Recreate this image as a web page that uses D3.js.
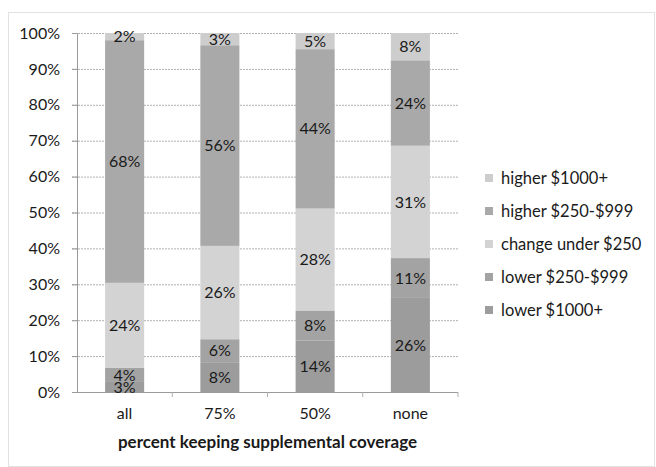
<!DOCTYPE html>
<html>
<head>
<meta charset="utf-8">
<script src="https://cdn.jsdelivr.net/npm/d3@7"></script>
<style>
  body { margin: 0; background: #fff; }
  text { font-family: Lato, "Open Sans", sans-serif; fill: #1a1a1a; }
</style>
</head>
<body>
<div id="chart"></div>
<script>
// categories along the x axis
var categories = ["all", "75%", "50%", "none"];
// series, bottom of the stack first
var seriesNames = ["lower $1000+", "lower $250-$999", "change under $250", "higher $250-$999", "higher $1000+"];
var lower1000 = [2.8, 8.3, 14.3, 26.2];
var lower250 = [3.9, 6.4, 8.4, 11.1];
var changeUnder = [23.7, 26.0, 28.4, 31.3];
var higher250 = [67.6, 55.9, 44.4, 23.8];
var higher1000 = [2.0, 3.4, 4.5, 7.6];
var yTicks = [0, 10, 20, 30, 40, 50, 60, 70, 80, 90, 100];

var colors = ["#9c9c9c", "#a3a3a3", "#d3d3d3", "#a9a9a9", "#cdcdcd"];

var width = 656, height = 467;
var mLeft = 77, mRight = 458, mTop = 33, mBottom = 392;

var rows = categories.map(function (c, i) {
  return {
    cat: c,
    s0: lower1000[i], s1: lower250[i], s2: changeUnder[i], s3: higher250[i], s4: higher1000[i]
  };
});
var keys = ["s0", "s1", "s2", "s3", "s4"];
var stacked = d3.stack().keys(keys)(rows);

var svg = d3.select("#chart").append("svg")
  .attr("width", width)
  .attr("height", height);

// chart frame
svg.append("rect")
  .attr("x", 8.5).attr("y", 12.5)
  .attr("width", width - 10).attr("height", height - 13)
  .attr("fill", "none")
  .attr("stroke", "#c4c4c4")
  .attr("stroke-dasharray", "1,1");

var x = d3.scaleBand().domain(categories).range([mLeft, mRight]).paddingInner(0.59).paddingOuter(0.295);
var y = d3.scaleLinear().domain([0, 100]).range([mBottom, mTop]);

// gridlines
svg.append("g")
  .selectAll("line")
  .data(yTicks.slice(1))
  .enter().append("line")
  .attr("x1", mLeft - 5).attr("x2", mRight)
  .attr("y1", function (d) { return y(d) + 0.5; })
  .attr("y2", function (d) { return y(d) + 0.5; })
  .attr("stroke", "#b0b0b0")
  .attr("stroke-dasharray", "2,1");

// y axis
var yAxis = svg.append("g")
  .attr("transform", "translate(" + mLeft + ",0)")
  .call(d3.axisLeft(y).tickValues(yTicks).tickSize(5).tickFormat(function (d) { return d + "%"; }));
yAxis.select(".domain").attr("stroke", "#9a9a9a");
yAxis.selectAll(".tick line").attr("stroke", "#9a9a9a");
yAxis.selectAll(".tick text")
  .attr("x", -17)
  .style("font-size", "16px")
  .style("font-family", "Lato, 'Open Sans', sans-serif")
  .attr("fill", "#1a1a1a");

// bars
svg.append("g")
  .selectAll("g")
  .data(stacked)
  .enter().append("g")
  .attr("fill", function (d, i) { return colors[i]; })
  .selectAll("rect")
  .data(function (d) { return d; })
  .enter().append("rect")
  .attr("x", function (d) { return x(d.data.cat); })
  .attr("y", function (d) { return y(d[1]); })
  .attr("height", function (d) { return y(d[0]) - y(d[1]); })
  .attr("width", x.bandwidth());

// x axis
var xAxis = svg.append("g")
  .attr("transform", "translate(0," + mBottom + ")");
xAxis.append("line")
  .attr("x1", mLeft).attr("x2", mRight)
  .attr("y1", 0.5).attr("y2", 0.5)
  .attr("stroke", "#9a9a9a");
var bounds = categories.map(function (c) { return x(c) + x.bandwidth() / 2 + x.step() / 2; });
xAxis.selectAll(".xt")
  .data(bounds)
  .enter().append("line")
  .attr("class", "xt")
  .attr("x1", function (d) { return d; }).attr("x2", function (d) { return d; })
  .attr("y1", 0).attr("y2", 5)
  .attr("stroke", "#b0b0b0");
xAxis.selectAll(".xl")
  .data(categories)
  .enter().append("text")
  .attr("class", "xl")
  .attr("x", function (d) { return x(d) + x.bandwidth() / 2; })
  .attr("y", 27)
  .attr("text-anchor", "middle")
  .style("font-size", "16px")
  .text(function (d) { return d; });

svg.append("text")
  .attr("x", (mLeft + mRight) / 2)
  .attr("y", 448)
  .attr("text-anchor", "middle")
  .style("font-size", "17px")
  .style("font-weight", "bold")
  .text("percent keeping supplemental coverage");

// data labels
svg.append("g")
  .selectAll("g")
  .data(stacked)
  .enter().append("g")
  .selectAll("text")
  .data(function (d) { return d; })
  .enter().append("text")
  .attr("x", function (d) { return x(d.data.cat) + x.bandwidth() / 2; })
  .attr("y", function (d) { return (y(d[0]) + y(d[1])) / 2; })
  .attr("dy", "0.35em")
  .attr("text-anchor", "middle")
  .style("font-size", "16px")
  .text(function (d) { return Math.round(d[1] - d[0]) + "%"; });

// legend, top series first
var legendOrder = [4, 3, 2, 1, 0];
var legend = svg.append("g")
  .selectAll("g")
  .data(legendOrder)
  .enter().append("g")
  .attr("transform", function (d, i) { return "translate(485," + (178 + i * 33) + ")"; });
legend.append("rect")
  .attr("x", 0).attr("y", -4)
  .attr("width", 8).attr("height", 8)
  .attr("fill", function (d) { return colors[d]; });
legend.append("text")
  .attr("x", 16)
  .attr("dy", "0.35em")
  .style("font-size", "16.5px")
  .text(function (d) { return seriesNames[d]; });
</script>
</body>
</html>
